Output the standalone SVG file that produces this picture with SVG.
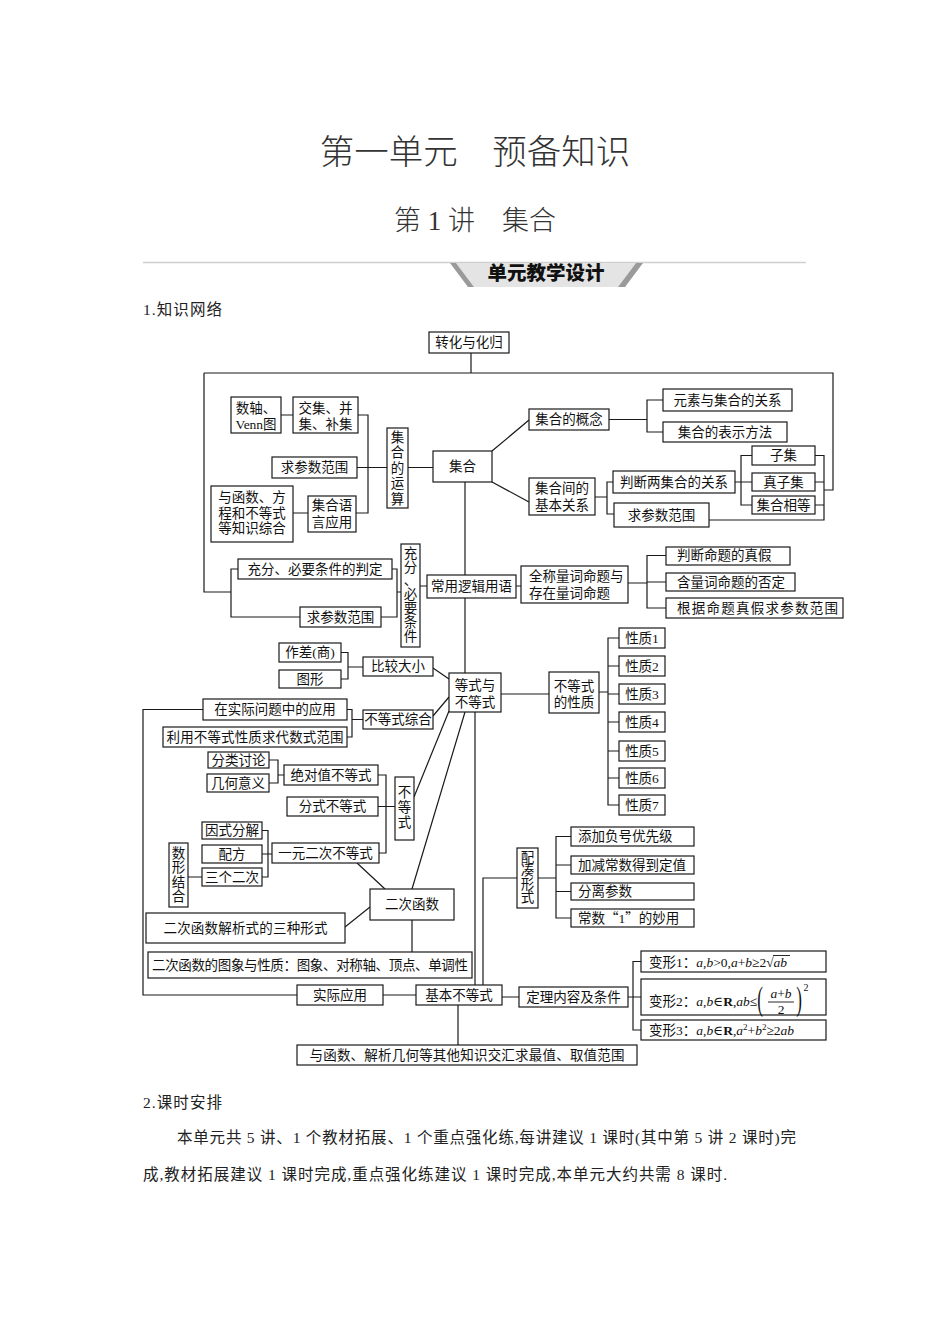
<svg xmlns="http://www.w3.org/2000/svg" width="950" height="1344" viewBox="0 0 950 1344">
<style>
.b{fill:#fff;stroke:#1a1a1a;stroke-width:1.2}
.c{fill:none;stroke:#1a1a1a;stroke-width:1.2}
.t{font-family:"Liberation Serif","DejaVu Serif","Noto Sans CJK SC",serif;font-size:13.5px;fill:#111;text-anchor:middle}
.l{text-anchor:start}
.i{font-style:italic}
.q{font-family:"Noto Sans CJK SC",sans-serif}
.h{font-family:"Liberation Serif","Noto Sans CJK SC",serif;fill:#333}
.p{font-family:"Liberation Serif","Noto Sans CJK SC",serif;font-size:15.5px;fill:#222}
</style>
<rect width="950" height="1344" fill="#fff"/>
<g id="header">
<text class="h" x="475" y="164" font-size="34.5" font-weight="300" text-anchor="middle">第一单元　预备知识</text>
<text class="h" x="475" y="230" font-size="27" font-weight="300" text-anchor="middle">第 1 讲　集合</text>
<line x1="143" y1="262.5" x2="806" y2="262.5" stroke="#cfcfcf" stroke-width="1.5"/>
<polygon points="456,263 636,263 618,287 474,287" fill="#e4e4e4"/>
<polygon points="450,263 456,263 474,287 468,287" fill="#9a9a9a"/>
<polygon points="636,263 643,263 625,287 618,287" fill="#9a9a9a"/>
<text x="546" y="280" font-family="Noto Sans CJK SC,sans-serif" font-size="19.5" font-weight="900" fill="#111" text-anchor="middle">单元教学设计</text>
<text class="p" x="143" y="315" textLength="79">1.知识网络</text>
</g>
<g id="connectors" class="c">
<path d="M471,353V373 M204,373H833V490H824 M204,373V592H231"/>
<path d="M238,569H231V617H300 M392,569H397V617H381 M397,592H401"/>
<path d="M420,586H427 M516,586H521"/>
<path d="M628,583H647 M666,555.5H647V608H666 M647,582H666"/>
<path d="M465,482V673"/>
<path d="M492,451L529,420 M492,482L529,502"/>
<path d="M609,419.5H647 M663,400H647V432H663"/>
<path d="M595,497H607 M613,482H607V514H614"/>
<path d="M735,482H752 M752,455.5H741V505H752"/>
<path d="M815,455.5H824V520H709 M815,482H824 M815,505H824"/>
<path d="M358,415H368V513H356 M357,467.5H387 M408,467.5H433"/>
<path d="M281,415H293 M293,513H308"/>
<path d="M341,652.5H348V679H341 M348,667H363 M433,668L449,679"/>
<path d="M347,709.5H352V737H347 M352,719.5H363 M433,716L449,697"/>
<path d="M203,709.5H143V995H297"/>
<path d="M269,760H278V783H269 M278,775H284"/>
<path d="M378,775H386V853H379 M378,806.5H395"/>
<path d="M414,797L449,711"/>
<path d="M262,830.5H268V877H262 M262,854H272 M188,877H202"/>
<path d="M357,863L385,889 M345,927L370,907 M412,920V952"/>
<path d="M465,712L412,889 M475,712V985"/>
<path d="M501,694H549 M599,692H608 M619,638H608V805H619 M608,666H619 M608,694H619 M608,722H619 M608,751H619 M608,778H619"/>
<path d="M483,985V878H517 M538,878H556 M571,836.5H556V918H571 M556,865H571 M556,891.5H571"/>
<path d="M383,995H416 M502,997H519 M628,997H641 M641,961.5H633V1030H641 M458,1005V1045"/>
</g>
<g id="n-zhuanhua"><rect class="b" x="429" y="332" width="80" height="21"/><text class="t" x="469" y="347.3">转化与化归</text></g>
<g id="n-shuzhou"><rect class="b" x="231" y="397" width="50" height="36"/><text class="t" x="256" y="412.8">数轴、</text><text class="t" x="256" y="428.8">Venn图</text></g>
<g id="n-jiaoji"><rect class="b" x="293" y="397" width="65" height="36"/><text class="t" x="325.5" y="412.8">交集、并</text><text class="t" x="325.5" y="428.8">集、补集</text></g>
<g id="n-qiucan1"><rect class="b" x="272" y="457" width="85" height="21"/><text class="t" x="314.5" y="472.3">求参数范围</text></g>
<g id="n-yuhanshu"><rect class="b" x="211" y="486" width="82" height="56"/><text class="t" x="252" y="501.8">与函数、方</text><text class="t" x="252" y="517.8">程和不等式</text><text class="t" x="252" y="532.8">等知识综合</text></g>
<g id="n-jiheyuyan"><rect class="b" x="308" y="496" width="48" height="36"/><text class="t" x="332" y="509.8">集合语</text><text class="t" x="332" y="526.8">言应用</text></g>
<g id="n-jiheyunsuan"><rect class="b" x="387" y="428" width="21" height="80"/><text class="t"><tspan x="397.5" y="441.8">集</tspan><tspan x="397.5" y="457.3">合</tspan><tspan x="397.5" y="472.8">的</tspan><tspan x="397.5" y="488.3">运</tspan><tspan x="397.5" y="503.8">算</tspan></text></g>
<g id="n-jihe"><rect class="b" x="433" y="451" width="59" height="31"/><text class="t" x="462.5" y="471.3">集合</text></g>
<g id="n-gainian"><rect class="b" x="529" y="409" width="80" height="21"/><text class="t" x="569" y="424.3">集合的概念</text></g>
<g id="n-yuansu"><rect class="b" x="663" y="389" width="129" height="22"/><text class="t" x="727.5" y="404.8">元素与集合的关系</text></g>
<g id="n-biaoshi"><rect class="b" x="663" y="422" width="124" height="20"/><text class="t" x="725" y="436.8">集合的表示方法</text></g>
<g id="n-jihejian"><rect class="b" x="529" y="478" width="66" height="37"/><text class="t" x="562" y="492.8">集合间的</text><text class="t" x="562" y="509.8">基本关系</text></g>
<g id="n-panduan"><rect class="b" x="613" y="471" width="122" height="22"/><text class="t" x="674" y="486.8">判断两集合的关系</text></g>
<g id="n-qiucan2"><rect class="b" x="614" y="503" width="95" height="24"/><text class="t" x="661.5" y="519.8">求参数范围</text></g>
<g id="n-ziji"><rect class="b" x="752" y="446" width="63" height="19"/><text class="t" x="783.5" y="460.3">子集</text></g>
<g id="n-zhenziji"><rect class="b" x="752" y="473" width="63" height="18"/><text class="t" x="783.5" y="486.8">真子集</text></g>
<g id="n-xiangdeng"><rect class="b" x="752" y="496" width="63" height="18"/><text class="t" x="783.5" y="509.8">集合相等</text></g>
<g id="n-chongfenpanding"><rect class="b" x="238" y="559" width="154" height="20"/><text class="t" x="315" y="573.8">充分、必要条件的判定</text></g>
<g id="n-qiucan3"><rect class="b" x="300" y="607" width="81" height="20"/><text class="t" x="340.5" y="621.8">求参数范围</text></g>
<g id="n-chongfen"><rect class="b" x="401" y="544" width="19" height="103"/><text class="t"><tspan x="410.5" y="557.8">充</tspan><tspan x="410.5" y="571.6">分</tspan><tspan x="410.5" y="585.4">、</tspan><tspan x="410.5" y="599.2">必</tspan><tspan x="410.5" y="613">要</tspan><tspan x="410.5" y="626.8">条</tspan><tspan x="410.5" y="640.6">件</tspan></text></g>
<g id="n-luoji"><rect class="b" x="427" y="575" width="89" height="23"/><text class="t" x="471.5" y="591.3">常用逻辑用语</text></g>
<g id="n-quancheng"><rect class="b" x="521" y="566" width="107" height="37"/><text class="t l" x="529" y="581.3">全称量词命题与</text><text class="t l" x="529" y="597.8">存在量词命题</text></g>
<g id="n-zhenjia"><rect class="b" x="666" y="547" width="124" height="18"/><text class="t l" x="677" y="560.3">判断命题的真假</text></g>
<g id="n-fouding"><rect class="b" x="666" y="573" width="129" height="18"/><text class="t l" x="677" y="586.8">含量词命题的否定</text></g>
<g id="n-genju"><rect class="b" x="666" y="598" width="177" height="20"/><text class="t l" x="677" y="612.8" textLength="161">根据命题真假求参数范围</text></g>
<g id="n-zuocha"><rect class="b" x="279" y="643" width="62" height="19"/><text class="t" x="310" y="657.3">作差(商)</text></g>
<g id="n-tuxing"><rect class="b" x="279" y="670" width="62" height="18"/><text class="t" x="310" y="683.8">图形</text></g>
<g id="n-bijiao"><rect class="b" x="363" y="657" width="70" height="19"/><text class="t" x="398" y="671.3">比较大小</text></g>
<g id="n-dengshi"><rect class="b" x="449" y="673" width="52" height="39"/><text class="t" x="475" y="689.8">等式与</text><text class="t" x="475" y="706.8">不等式</text></g>
<g id="n-xingzhi"><rect class="b" x="549" y="672" width="50" height="41"/><text class="t" x="574" y="690.8">不等式</text><text class="t" x="574" y="706.8">的性质</text></g>
<g id="n-xz1"><rect class="b" x="619" y="628" width="46" height="20"/><text class="t" x="642" y="642.8">性质1</text></g>
<g id="n-xz2"><rect class="b" x="619" y="656" width="46" height="20"/><text class="t" x="642" y="670.8">性质2</text></g>
<g id="n-xz3"><rect class="b" x="619" y="684" width="46" height="20"/><text class="t" x="642" y="698.8">性质3</text></g>
<g id="n-xz4"><rect class="b" x="619" y="712" width="46" height="20"/><text class="t" x="642" y="726.8">性质4</text></g>
<g id="n-xz5"><rect class="b" x="619" y="741" width="46" height="20"/><text class="t" x="642" y="755.8">性质5</text></g>
<g id="n-xz6"><rect class="b" x="619" y="768" width="46" height="20"/><text class="t" x="642" y="782.8">性质6</text></g>
<g id="n-xz7"><rect class="b" x="619" y="795" width="46" height="20"/><text class="t" x="642" y="809.8">性质7</text></g>
<g id="n-shiji"><rect class="b" x="203" y="699" width="144" height="21"/><text class="t" x="275" y="714.3">在实际问题中的应用</text></g>
<g id="n-liyong"><rect class="b" x="163" y="727" width="184" height="20"/><text class="t" x="255" y="741.8" textLength="177">利用不等式性质求代数式范围</text></g>
<g id="n-zonghe"><rect class="b" x="363" y="710" width="70" height="19"/><text class="t" x="398" y="724.3">不等式综合</text></g>
<g id="n-fenlei"><rect class="b" x="208" y="752" width="61" height="16"/><text class="t" x="238.5" y="764.8">分类讨论</text></g>
<g id="n-jihe-yiyi"><rect class="b" x="207" y="774" width="62" height="18"/><text class="t" x="238" y="787.8">几何意义</text></g>
<g id="n-jueduizhi"><rect class="b" x="284" y="765" width="94" height="20"/><text class="t" x="331" y="779.8">绝对值不等式</text></g>
<g id="n-fenshi"><rect class="b" x="287" y="797" width="91" height="19"/><text class="t" x="332.5" y="811.3">分式不等式</text></g>
<g id="n-budengshi"><rect class="b" x="395" y="777" width="19" height="63"/><text class="t"><tspan x="404.5" y="796.8">不</tspan><tspan x="404.5" y="811.8">等</tspan><tspan x="404.5" y="826.8">式</tspan></text></g>
<g id="n-yinshi"><rect class="b" x="202" y="822" width="60" height="17"/><text class="t" x="232" y="835.3">因式分解</text></g>
<g id="n-peifang"><rect class="b" x="202" y="845" width="60" height="18"/><text class="t" x="232" y="858.8">配方</text></g>
<g id="n-sange"><rect class="b" x="202" y="868" width="60" height="18"/><text class="t" x="232" y="881.8">三个二次</text></g>
<g id="n-yiyuan"><rect class="b" x="272" y="843" width="107" height="20"/><text class="t" x="325.5" y="857.8">一元二次不等式</text></g>
<g id="n-shuxing"><rect class="b" x="169" y="843" width="19" height="64"/><text class="t"><tspan x="178.5" y="857.8">数</tspan><tspan x="178.5" y="872.3">形</tspan><tspan x="178.5" y="886.8">结</tspan><tspan x="178.5" y="901.3">合</tspan></text></g>
<g id="n-erci"><rect class="b" x="370" y="889" width="84" height="31"/><text class="t" x="412" y="909.3">二次函数</text></g>
<g id="n-jiexishi"><rect class="b" x="146" y="913" width="199" height="30"/><text class="t" x="245.5" y="932.8" textLength="164">二次函数解析式的三种形式</text></g>
<g id="n-tuxiang"><rect class="b" x="148" y="952" width="324" height="26"/><text class="t" x="310" y="969.8" textLength="316">二次函数的图象与性质：图象、对称轴、顶点、单调性</text></g>
<g id="n-shijiyingyong"><rect class="b" x="297" y="985" width="86" height="20"/><text class="t" x="340" y="999.8">实际应用</text></g>
<g id="n-jiben"><rect class="b" x="416" y="985" width="86" height="20"/><text class="t" x="459" y="999.8">基本不等式</text></g>
<g id="n-jiaohui"><rect class="b" x="297" y="1045" width="340" height="20"/><text class="t" x="467" y="1059.8" textLength="315">与函数、解析几何等其他知识交汇求最值、取值范围</text></g>
<g id="n-dingli"><rect class="b" x="519" y="987" width="109" height="20"/><text class="t" x="573.5" y="1001.8">定理内容及条件</text></g>
<g id="n-peicou"><rect class="b" x="517" y="848" width="21" height="60"/><text class="t"><tspan x="527.5" y="861.8">配</tspan><tspan x="527.5" y="875.3">凑</tspan><tspan x="527.5" y="888.8">形</tspan><tspan x="527.5" y="902.3">式</tspan></text></g>
<g id="n-tianjia"><rect class="b" x="571" y="827" width="123" height="19"/><text class="t l" x="578" y="841.3">添加负号优先级</text></g>
<g id="n-jiajian"><rect class="b" x="571" y="856" width="123" height="18"/><text class="t l" x="578" y="869.8">加减常数得到定值</text></g>
<g id="n-fenli"><rect class="b" x="571" y="883" width="123" height="17"/><text class="t l" x="578" y="896.3">分离参数</text></g>
<g id="n-changshu"><rect class="b" x="571" y="909" width="123" height="18"/><text class="t l" x="578" y="922.8">常数<tspan class="q">“</tspan>1<tspan class="q">”</tspan>的妙用</text></g>
<g id="n-bx1"><rect class="b" x="641" y="951" width="185" height="21"/><text class="t l" x="649" y="966.5">变形1：<tspan class="i">a</tspan>,<tspan class="i">b</tspan>&gt;0,<tspan class="i">a</tspan>+<tspan class="i">b</tspan>≥2√<tspan class="i">ab</tspan></text><line x1="773" y1="955.5" x2="790" y2="955.5" stroke="#111" stroke-width="0.9"/></g>
<g id="n-bx2"><rect class="b" x="641" y="979" width="185" height="36"/><text class="t l" x="649" y="1006.3">变形2：<tspan class="i">a</tspan>,<tspan class="i">b</tspan>∈<tspan font-weight="bold">R</tspan>,<tspan class="i">ab</tspan>≤</text><text class="t" transform="translate(760,1010) scale(0.5,1)" style="font-size:34px">(</text><text class="t" x="781" y="998"><tspan class="i">a</tspan>+<tspan class="i">b</tspan></text><line x1="768" y1="1002" x2="794" y2="1002" stroke="#111" stroke-width="0.9"/><text class="t" x="781" y="1013.5">2</text><text class="t" transform="translate(799,1010) scale(0.5,1)" style="font-size:34px">)</text><text class="t" x="806" y="991" style="font-size:10px">2</text></g>
<g id="n-bx3"><rect class="b" x="641" y="1020" width="185" height="20"/><text class="t l" x="649" y="1035">变形3：<tspan class="i">a</tspan>,<tspan class="i">b</tspan>∈<tspan font-weight="bold">R</tspan>,<tspan class="i">a</tspan><tspan dy="-5" font-size="9">2</tspan><tspan dy="5">+</tspan><tspan class="i">b</tspan><tspan dy="-5" font-size="9">2</tspan><tspan dy="5">≥2</tspan><tspan class="i">ab</tspan></text></g>
<g id="footer">
<text class="p" x="143" y="1108" textLength="79">2.课时安排</text>
<text class="p" x="177" y="1143" textLength="619">本单元共 5 讲、1 个教材拓展、1 个重点强化练,每讲建议 1 课时(其中第 5 讲 2 课时)完</text>
<text class="p" x="143" y="1180" textLength="584">成,教材拓展建议 1 课时完成,重点强化练建议 1 课时完成,本单元大约共需 8 课时.</text>
</g>
</svg>
